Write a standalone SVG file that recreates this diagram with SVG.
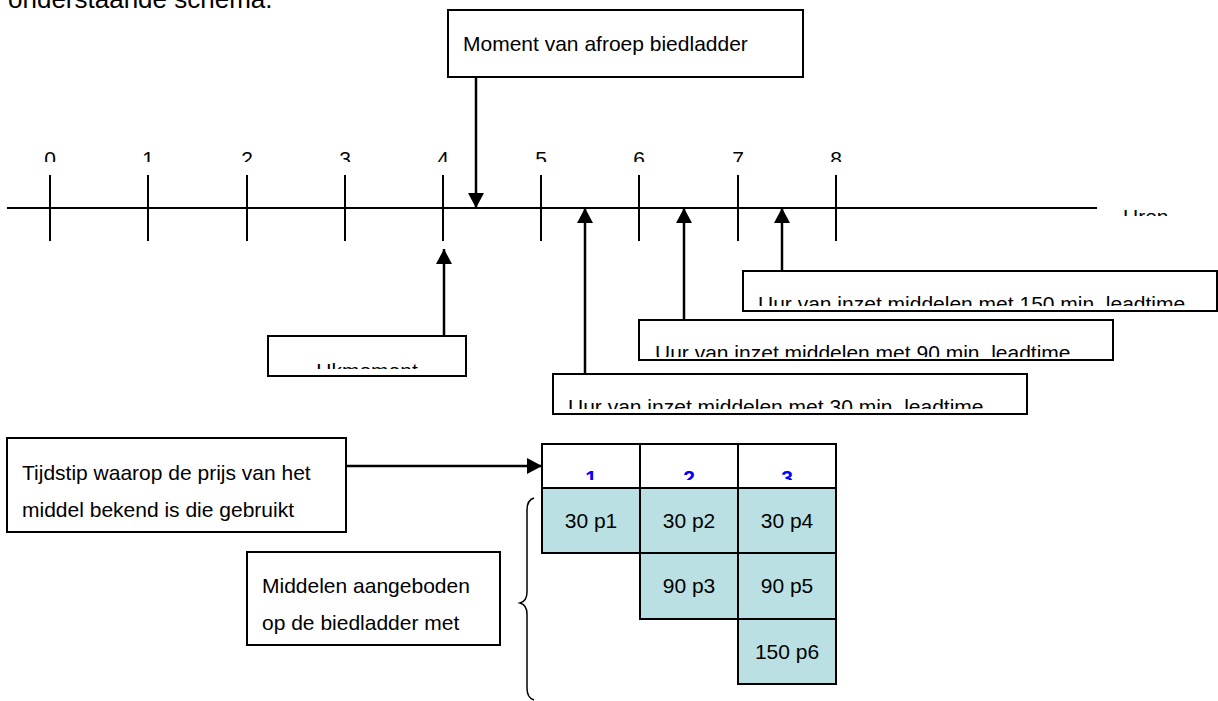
<svg xmlns="http://www.w3.org/2000/svg" width="1218" height="701" viewBox="0 0 1218 701">
<style>
text{font-family:"Liberation Sans",Arial,sans-serif;font-size:21px;fill:#000}
.box{fill:#fff;stroke:#000;stroke-width:2}
.ln{stroke:#000;stroke-width:2;fill:none}
.arr{stroke:#000;stroke-width:2.5;fill:none;marker-end:url(#ah)}
.cell{fill:#BBE0E3;stroke:#000;stroke-width:2}
.hcell{fill:#fff;stroke:#000;stroke-width:2}
.hnum{font-weight:bold;fill:#0000FF;text-anchor:middle}
.ct{text-anchor:middle}
</style>
<defs>
<marker id="ah" markerUnits="userSpaceOnUse" markerWidth="16" markerHeight="16" refX="15" refY="8" orient="auto">
<path d="M0,0 L15,8 L0,16 z" fill="#000"/>
</marker>
<clipPath id="cTick"><rect x="0" y="140" width="1218" height="22"/></clipPath>
<clipPath id="cUren"><rect x="1100" y="195" width="118" height="21"/></clipPath>
<clipPath id="cUk"><rect x="268" y="336" width="198" height="33"/></clipPath>
<clipPath id="c150"><rect x="743" y="271" width="474" height="35"/></clipPath>
<clipPath id="c90"><rect x="639" y="320" width="474" height="37"/></clipPath>
<clipPath id="c30"><rect x="553" y="374" width="474" height="35"/></clipPath>
<clipPath id="cHead"><rect x="542" y="444" width="294" height="36"/></clipPath>
</defs>

<text x="8" y="8" style="font-size:26px">onderstaande schema.</text>

<g id="timeline">
<line class="ln" x1="7" y1="208" x2="1097" y2="208"/>
<g class="ln">
<line x1="50" y1="175" x2="50" y2="241"/>
<line x1="148" y1="175" x2="148" y2="241"/>
<line x1="247" y1="175" x2="247" y2="241"/>
<line x1="345" y1="175" x2="345" y2="241"/>
<line x1="443" y1="175" x2="443" y2="241"/>
<line x1="541" y1="175" x2="541" y2="241"/>
<line x1="639" y1="175" x2="639" y2="241"/>
<line x1="738" y1="175" x2="738" y2="241"/>
<line x1="836" y1="175" x2="836" y2="241"/>
</g>
<g clip-path="url(#cTick)" class="ct">
<text x="50" y="166">0</text>
<text x="148" y="166">1</text>
<text x="247" y="166">2</text>
<text x="345" y="166">3</text>
<text x="443" y="166">4</text>
<text x="541" y="166">5</text>
<text x="639" y="166">6</text>
<text x="738" y="166">7</text>
<text x="836" y="166">8</text>
</g>
<text x="1123" y="224" clip-path="url(#cUren)">Uren</text>
</g>

<g id="moment">
<rect class="box" x="448" y="10" width="355" height="67"/>
<text x="463" y="51">Moment van afroep biedladder</text>
</g>

<g id="ukmoment">
<rect class="box" x="268" y="336" width="198" height="40"/>
<text x="367" y="378" class="ct" clip-path="url(#cUk)">Ukmoment</text>
</g>

<g id="inzet150">
<rect class="box" x="743" y="271" width="474" height="40"/>
<text x="758" y="311" clip-path="url(#c150)">Uur van inzet middelen met 150 min. leadtime</text>
</g>

<g id="inzet90">
<rect class="box" x="639" y="320" width="474" height="40"/>
<text x="655" y="360" clip-path="url(#c90)">Uur van inzet middelen met 90 min. leadtime</text>
</g>

<g id="inzet30">
<rect class="box" x="553" y="374" width="474" height="40"/>
<text x="568" y="414" clip-path="url(#c30)">Uur van inzet middelen met 30 min. leadtime</text>
</g>

<g id="tijdstip">
<rect class="box" x="7" y="438" width="339" height="94"/>
<text x="22" y="480">Tijdstip waarop de prijs van het</text>
<text x="22" y="517">middel bekend is die gebruikt</text>
</g>

<g id="middelen">
<rect class="box" x="247" y="552" width="253" height="93"/>
<text x="262" y="593">Middelen aangeboden</text>
<text x="262" y="630">op de biedladder met</text>
</g>

<g id="brace">
<path class="ln" style="stroke-width:1.5" d="M534,498 Q527,500 527,510 L527,592 Q527,601 520,603 Q527,605 527,614 L527,688 Q527,698 534,700"/>
</g>

<g id="table">
<rect class="hcell" x="542" y="444" width="98" height="44"/>
<rect class="hcell" x="640" y="444" width="98" height="44"/>
<rect class="hcell" x="738" y="444" width="98" height="44"/>
<g clip-path="url(#cHead)">
<text class="hnum" x="591" y="485">1</text>
<text class="hnum" x="689" y="485">2</text>
<text class="hnum" x="787" y="485">3</text>
</g>
<rect class="cell" x="542" y="488" width="98" height="65"/>
<rect class="cell" x="640" y="488" width="98" height="65"/>
<rect class="cell" x="738" y="488" width="98" height="65"/>
<rect class="cell" x="640" y="553" width="98" height="66"/>
<rect class="cell" x="738" y="553" width="98" height="66"/>
<rect class="cell" x="738" y="619" width="98" height="65"/>
<text class="ct" x="591" y="528">30 p1</text>
<text class="ct" x="689" y="528">30 p2</text>
<text class="ct" x="787" y="528">30 p4</text>
<text class="ct" x="689" y="593">90 p3</text>
<text class="ct" x="787" y="593">90 p5</text>
<text class="ct" x="787" y="659">150 p6</text>
</g>

<g id="connectors">
<line class="arr" x1="476" y1="77" x2="476" y2="208"/>
<line class="arr" x1="444" y1="336" x2="444" y2="249"/>
<line class="arr" x1="585" y1="374" x2="585" y2="208"/>
<line class="arr" x1="684" y1="320" x2="684" y2="208"/>
<line class="arr" x1="782" y1="271" x2="782" y2="208"/>
<line class="arr" x1="346" y1="466" x2="542" y2="466"/>
</g>
</svg>
